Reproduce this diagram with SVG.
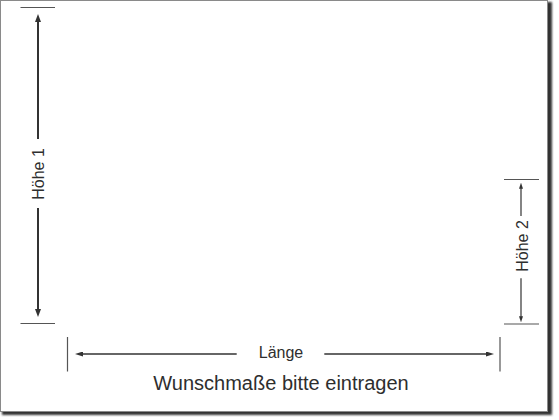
<svg xmlns="http://www.w3.org/2000/svg" width="559" height="420" viewBox="0 0 559 420">
<style>
.lbl{font-family:"Liberation Sans",Arial,sans-serif;fill:#2e2e2e;text-anchor:middle}
.tick{stroke:#555;stroke-width:1.2;fill:none}
.dim{stroke:#333;fill:none}
</style>
<defs>
<filter id="sh" x="-5%" y="-5%" width="110%" height="110%"><feGaussianBlur stdDeviation="1.3"/></filter>
<marker id="ah1" viewBox="0 0 8 6" refX="2" refY="3" markerWidth="8" markerHeight="6" markerUnits="userSpaceOnUse" orient="auto"><path d="M0,0 L8,3 L0,6 z" fill="#333"/></marker>
<marker id="ah2" viewBox="0 0 8 5" refX="2" refY="2.5" markerWidth="8" markerHeight="5" markerUnits="userSpaceOnUse" orient="auto"><path d="M0,0 L8,2.5 L0,5 z" fill="#333"/></marker>
<marker id="ah3" viewBox="0 0 6 4" refX="1.5" refY="2" markerWidth="6" markerHeight="4" markerUnits="userSpaceOnUse" orient="auto"><path d="M0,0 L6,2 L0,4 z" fill="#333"/></marker>
</defs>
<rect width="559" height="420" fill="#fff"/>
<g id="page">
<rect x="2" y="2" width="550" height="413" fill="#333" filter="url(#sh)"/>
<rect x="0.5" y="0.5" width="547" height="411" fill="#fff" stroke="#8a8a8a" stroke-width="1"/>
</g>
<g id="connectors">
<path class="tick" d="M20.5,7.5 H55 M20.5,323.5 H55"/>
<path class="dim" stroke-width="2" d="M38,139 V20" marker-end="url(#ah1)"/>
<path class="dim" stroke-width="2" d="M38,208 V311" marker-end="url(#ah1)"/>
<path class="tick" d="M67.5,337 V371.5 M500,337 V371.5"/>
<path class="dim" stroke-width="1.5" d="M236.7,354 H81" marker-end="url(#ah2)"/>
<path class="dim" stroke-width="1.5" d="M324.3,354 H488" marker-end="url(#ah2)"/>
<path class="tick" d="M504,179.5 H539 M504,324 H539"/>
<path class="dim" stroke-width="1.2" d="M521,216 V187.2" marker-end="url(#ah3)"/>
<path class="dim" stroke-width="1.2" d="M521,278.3 V317.8" marker-end="url(#ah3)"/>
</g>
<g id="hoehe1"><text class="lbl" font-size="16" transform="translate(44,174) rotate(-90)">Höhe 1</text></g>
<g id="hoehe2"><text class="lbl" font-size="16" transform="translate(528,246) rotate(-90)">Höhe 2</text></g>
<g id="laenge"><text class="lbl" font-size="16" x="281" y="358">Länge</text></g>
<g id="hinweis"><text class="lbl" font-size="20" x="281" y="390">Wunschmaße bitte eintragen</text></g>
</svg>
